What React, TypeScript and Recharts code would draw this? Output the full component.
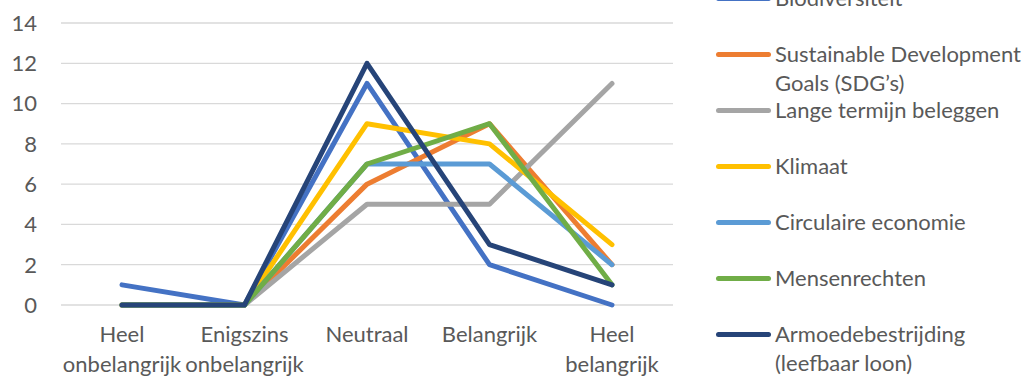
import { CartesianGrid, Legend, Line, LineChart, XAxis, YAxis } from 'recharts'

const categories = ['Heel onbelangrijk', 'Enigszins onbelangrijk', 'Neutraal', 'Belangrijk', 'Heel belangrijk']

const biodiversiteit = [1, 0, 11, 2, 0]
const sdgs = [0, 0, 6, 9, 2]
const langeTermijn = [0, 0, 5, 5, 11]
const klimaat = [0, 0, 9, 8, 3]
const circulair = [0, 0, 7, 7, 2]
const mensenrechten = [0, 0, 7, 9, 1]
const armoede = [0, 0, 12, 3, 1]

const yTicks = [0, 2, 4, 6, 8, 10, 12, 14]

const series = [
  { key: 'Biodiversiteit', values: biodiversiteit, color: '#4472C4' },
  { key: 'Sustainable Development Goals (SDG’s)', values: sdgs, color: '#ED7D31' },
  { key: 'Lange termijn beleggen', values: langeTermijn, color: '#A5A5A5' },
  { key: 'Klimaat', values: klimaat, color: '#FFC000' },
  { key: 'Circulaire economie', values: circulair, color: '#5B9BD5' },
  { key: 'Mensenrechten', values: mensenrechten, color: '#70AD47' },
  { key: 'Armoedebestrijding (leefbaar loon)', values: armoede, color: '#264478' },
]

const TEXT = '#595959'
const FONT = 22

function CategoryTick({ x, y, payload }: any) {
  const words = String(payload.value).split(' ')
  return (
    <text x={x} y={y + 37} textAnchor="middle" fill={TEXT} fontSize={FONT}>
      {words.map((w, i) => (
        <tspan key={i} x={x} dy={i === 0 ? 0 : 30}>
          {w}
        </tspan>
      ))}
    </text>
  )
}

// legend follows the series order (recharts would sort it by name)
function SeriesLegend() {
  return (
    <div style={{ width: 355, paddingLeft: 43, boxSizing: 'border-box' }}>
      {series.map((s) => (
        <div key={s.key} style={{ position: 'relative', height: 56 }}>
          <div
            style={{
              position: 'absolute',
              left: 0,
              top: 26,
              width: 55,
              height: 5,
              borderRadius: 3,
              background: s.color,
            }}
          />
          <div
            style={{
              position: 'absolute',
              left: 59,
              top: 13,
              width: 253,
              lineHeight: '29px',
              fontSize: FONT,
              color: TEXT,
            }}
          >
            {s.key}
          </div>
        </div>
      ))}
    </div>
  )
}

export default function App() {
  const data = categories.map((c, i) => {
    const row: Record<string, string | number> = { name: c }
    series.forEach((s) => {
      row[s.key] = s.values[i]
    })
    return row
  })

  return (
    <div
      style={{
        position: 'fixed',
        left: 0,
        top: 0,
        width: 1028,
        height: 376,
        overflow: 'hidden',
        background: '#fff',
        fontFamily: 'Lato, "Noto Sans", sans-serif',
      }}
    >
      <LineChart width={1028} height={376} data={data} margin={{ top: 23, right: 0, bottom: 0, left: 0 }}>
        <CartesianGrid vertical={false} stroke="#D9D9D9" strokeWidth={1.3} />
        <XAxis
          dataKey="name"
          interval={0}
          height={71}
          padding={{ left: 61, right: 61 }}
          axisLine={false}
          tickLine={false}
          tickSize={0}
          tickMargin={0}
          tick={<CategoryTick />}
        />
        <YAxis
          width={61}
          domain={[0, 14]}
          ticks={yTicks}
          interval={0}
          axisLine={false}
          tickLine={false}
          tickSize={0}
          tickMargin={24}
          tick={{ fill: TEXT, fontSize: FONT }}
        />
        <Legend
          layout="vertical"
          align="right"
          verticalAlign="top"
          wrapperStyle={{ top: -30 }}
          content={<SeriesLegend />}
        />
        {series.map((s) => (
          <Line
            key={s.key}
            type="linear"
            dataKey={s.key}
            stroke={s.color}
            strokeWidth={5}
            strokeLinecap="round"
            strokeLinejoin="round"
            dot={false}
            activeDot={false}
            isAnimationActive={false}
          />
        ))}
      </LineChart>
    </div>
  )
}
